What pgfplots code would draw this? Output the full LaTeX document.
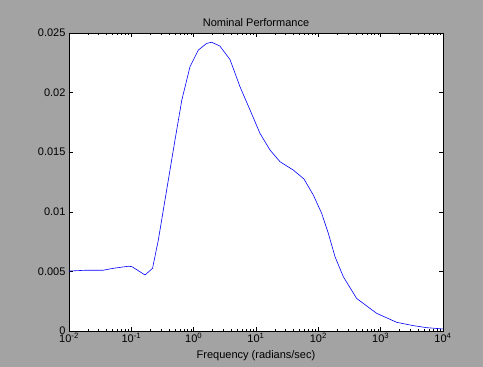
\documentclass[border=0pt]{standalone}
\usepackage{fontspec}
\setmainfont{Liberation Sans}
\usepackage{pgfplots}
\pgfplotsset{compat=1.18}
\definecolor{figgray}{RGB}{163,163,163}
\begin{document}
\begin{tikzpicture}[x=1pt,y=1pt]
\fill[figgray] (0,0) rectangle (483,367);
\begin{axis}[
  at={(69pt,36pt)}, anchor=south west,
  scale only axis, width=374pt, height=298pt,
  xmode=log, xmin=1e-2, xmax=1e4,
  ymin=0, ymax=0.025,
  axis background/.style={fill=white},
  font=\fontsize{11}{13}\selectfont,
  title={Nominal Performance},
  title style={yshift=-3pt},
  xlabel={Frequency (radians/sec)},
  xlabel style={yshift=-1pt},
  xtick={1e-2,1e-1,1e0,1e1,1e2,1e3,1e4},
  xticklabels={10\textsuperscript{-2},10\textsuperscript{-1},10\textsuperscript{0},10\textsuperscript{1},10\textsuperscript{2},10\textsuperscript{3},10\textsuperscript{4}},
  xticklabel style={yshift=1pt},
  minor xtick={0.02,0.03,0.04,0.05,0.06,0.07,0.08,0.09,
    0.2,0.3,0.4,0.5,0.6,0.7,0.8,0.9,
    2,3,4,5,6,7,8,9,
    20,30,40,50,60,70,80,90,
    200,300,400,500,600,700,800,900,
    2000,3000,4000,5000,6000,7000,8000,9000},
  ytick={0,0.005,0.01,0.015,0.02,0.025},
  scaled y ticks=false,
  yticklabel style={/pgf/number format/fixed,/pgf/number format/precision=3,/pgf/number format/assume math mode=true},
  tick align=inside,
  major tick length=4pt, minor tick length=2pt,
  tick style={black, line width=0.5pt},
  axis line style={black, line width=0.6pt},
]
\addplot[blue, line width=0.6pt] coordinates {
(0.01,0.00503)(0.0192,0.0051)(0.0355,0.0051)(0.0513,0.00526)(0.0891,0.00543)(0.102,0.0054)
(0.166,0.0047)(0.219,0.00526)(0.271,0.00763)(0.501,0.0160)(0.646,0.01938)(0.873,0.02217)
(1.189,0.02357)(1.618,0.02413)(1.945,0.02422)(2.63,0.02391)(3.83,0.02277)(5.53,0.0205)
(8.02,0.01854)(11.59,0.01658)(16.79,0.01518)(24.27,0.01420)(39.7,0.0135)(58.9,0.01275)
(83.2,0.0114)(113.2,0.00987)(144.5,0.0082)(185.4,0.00623)(251.8,0.00455)(412,0.00273)
(863,0.00148)(1807,0.00073)(3342,0.00045)(5470,0.00028)(10000,0.00017)
};
\end{axis}
\end{tikzpicture}
\end{document}
